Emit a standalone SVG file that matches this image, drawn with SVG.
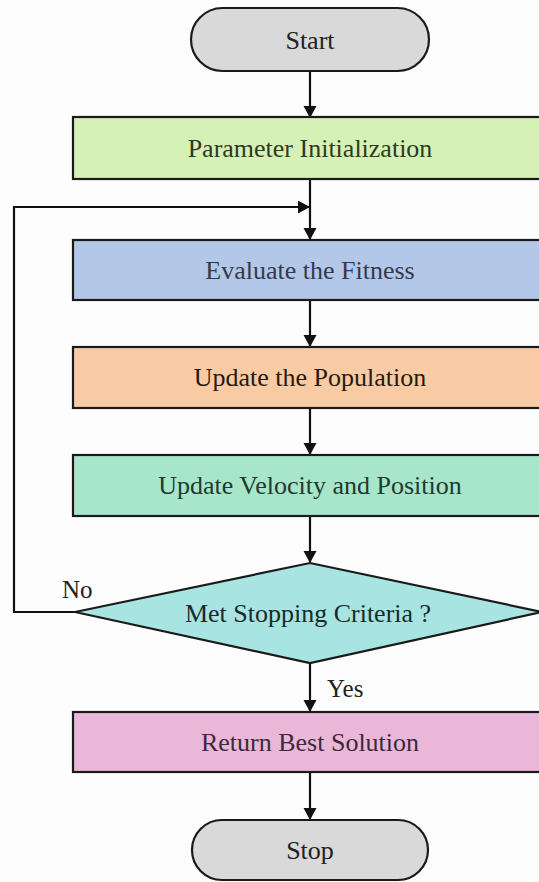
<svg xmlns="http://www.w3.org/2000/svg" width="539" height="882" viewBox="0 0 539 882">
<style>
.n{stroke:#1a1a1a;stroke-width:2.2}
.t{font-family:"Liberation Serif","Times New Roman",serif;font-size:26px;text-anchor:middle}
.l{font-family:"Liberation Serif","Times New Roman",serif;font-size:25px}
.c{fill:none;stroke:#111;stroke-width:2.2}
</style>
<defs>
<marker id="ah" markerUnits="userSpaceOnUse" markerWidth="14" markerHeight="14" refX="11" refY="6.5" orient="auto">
<path d="M0,0 L12,6.5 L0,13 z" fill="#111"/>
</marker>
</defs>
<rect width="539" height="882" fill="#fdfdfd"/>
<g id="connectors">
<line class="c" x1="310" y1="71" x2="310" y2="117" marker-end="url(#ah)"/>
<line class="c" x1="310" y1="179" x2="310" y2="239" marker-end="url(#ah)"/>
<polyline class="c" points="75,612 14,612 14,207 309,207" marker-end="url(#ah)"/>
<line class="c" x1="310" y1="300" x2="310" y2="346" marker-end="url(#ah)"/>
<line class="c" x1="310" y1="408" x2="310" y2="454" marker-end="url(#ah)"/>
<line class="c" x1="310" y1="516" x2="310" y2="562" marker-end="url(#ah)"/>
<line class="c" x1="310" y1="663" x2="310" y2="711" marker-end="url(#ah)"/>
<line class="c" x1="310" y1="772" x2="310" y2="819" marker-end="url(#ah)"/>
<text class="l" x="62" y="598" fill="#222">No</text>
<text class="l" x="327" y="697" fill="#222">Yes</text>
</g>
<g id="start">
<rect class="n" x="191" y="8" width="238" height="63" rx="31.5" fill="#d9d9d9"/>
<text class="t" x="310" y="49" fill="#222">Start</text>
</g>
<g id="param">
<rect class="n" x="73" y="117" width="475" height="62" fill="#d6f1b6"/>
<text class="t" x="310" y="157" fill="#2c3a22">Parameter Initialization</text>
</g>
<g id="evaluate">
<rect class="n" x="73" y="240" width="475" height="60" fill="#b3c7e8"/>
<text class="t" x="310" y="279" fill="#333a4c">Evaluate the Fitness</text>
</g>
<g id="population">
<rect class="n" x="73" y="347" width="475" height="61" fill="#f8cba5"/>
<text class="t" x="310" y="386" fill="#2a180c">Update the Population</text>
</g>
<g id="velocity">
<rect class="n" x="73" y="455" width="475" height="61" fill="#a8e6cb"/>
<text class="t" x="310" y="494" fill="#1f3a2e">Update Velocity and Position</text>
</g>
<g id="decision">
<polygon class="n" points="310,563 542,612 310,663 75,612" fill="#a8e5e2"/>
<text class="t" x="308" y="622" fill="#1a2a2a">Met Stopping Criteria ?</text>
</g>
<g id="return">
<rect class="n" x="73" y="712" width="475" height="60" fill="#ebb7d8"/>
<text class="t" x="310" y="751" fill="#3a2a3a">Return Best Solution</text>
</g>
<g id="stop">
<rect class="n" x="192" y="820" width="236" height="60" rx="30" fill="#d9d9d9"/>
<text class="t" x="310" y="859" fill="#222">Stop</text>
</g>
</svg>
